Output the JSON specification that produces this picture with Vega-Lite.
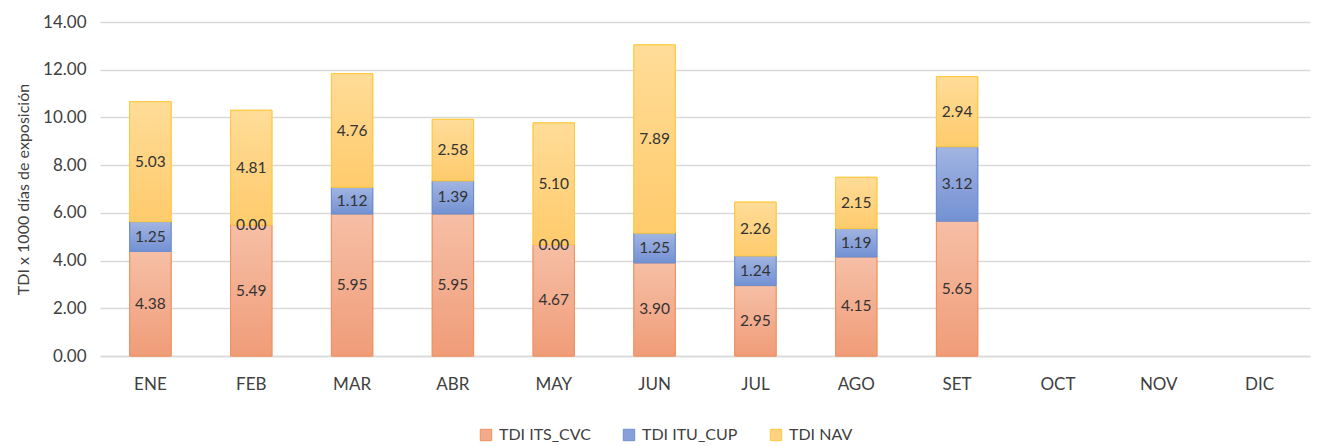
{
  "$schema": "https://vega.github.io/schema/vega-lite/v6.json",
  "width": 1210,
  "height": 334,
  "autosize": {"type": "none"},
  "padding": {"left": 100, "top": 22, "right": 7, "bottom": 90},
  "background": "white",
  "config": {"view": {"stroke": null}, "font": "Lato"},
  "data": {"values": [
    {"mes": "ENE", "serie": "TDI ITS_CVC", "orden": 1, "valor": 4.38},
    {"mes": "ENE", "serie": "TDI ITU_CUP", "orden": 2, "valor": 1.25},
    {"mes": "ENE", "serie": "TDI NAV", "orden": 3, "valor": 5.03},
    {"mes": "FEB", "serie": "TDI ITS_CVC", "orden": 1, "valor": 5.49},
    {"mes": "FEB", "serie": "TDI ITU_CUP", "orden": 2, "valor": 0.00},
    {"mes": "FEB", "serie": "TDI NAV", "orden": 3, "valor": 4.81},
    {"mes": "MAR", "serie": "TDI ITS_CVC", "orden": 1, "valor": 5.95},
    {"mes": "MAR", "serie": "TDI ITU_CUP", "orden": 2, "valor": 1.12},
    {"mes": "MAR", "serie": "TDI NAV", "orden": 3, "valor": 4.76},
    {"mes": "ABR", "serie": "TDI ITS_CVC", "orden": 1, "valor": 5.95},
    {"mes": "ABR", "serie": "TDI ITU_CUP", "orden": 2, "valor": 1.39},
    {"mes": "ABR", "serie": "TDI NAV", "orden": 3, "valor": 2.58},
    {"mes": "MAY", "serie": "TDI ITS_CVC", "orden": 1, "valor": 4.67},
    {"mes": "MAY", "serie": "TDI ITU_CUP", "orden": 2, "valor": 0.00},
    {"mes": "MAY", "serie": "TDI NAV", "orden": 3, "valor": 5.10},
    {"mes": "JUN", "serie": "TDI ITS_CVC", "orden": 1, "valor": 3.90},
    {"mes": "JUN", "serie": "TDI ITU_CUP", "orden": 2, "valor": 1.25},
    {"mes": "JUN", "serie": "TDI NAV", "orden": 3, "valor": 7.89},
    {"mes": "JUL", "serie": "TDI ITS_CVC", "orden": 1, "valor": 2.95},
    {"mes": "JUL", "serie": "TDI ITU_CUP", "orden": 2, "valor": 1.24},
    {"mes": "JUL", "serie": "TDI NAV", "orden": 3, "valor": 2.26},
    {"mes": "AGO", "serie": "TDI ITS_CVC", "orden": 1, "valor": 4.15},
    {"mes": "AGO", "serie": "TDI ITU_CUP", "orden": 2, "valor": 1.19},
    {"mes": "AGO", "serie": "TDI NAV", "orden": 3, "valor": 2.15},
    {"mes": "SET", "serie": "TDI ITS_CVC", "orden": 1, "valor": 5.65},
    {"mes": "SET", "serie": "TDI ITU_CUP", "orden": 2, "valor": 3.12},
    {"mes": "SET", "serie": "TDI NAV", "orden": 3, "valor": 2.94}
  ]},
  "transform": [
    {"stack": "valor", "groupby": ["mes"], "sort": [{"field": "orden", "order": "ascending"}], "as": ["y0", "y1"]},
    {"calculate": "(datum.y0 + datum.y1) / 2", "as": "ymid"}
  ],
  "encoding": {
    "x": {
      "field": "mes", "type": "nominal",
      "scale": {"domain": ["ENE","FEB","MAR","ABR","MAY","JUN","JUL","AGO","SET","OCT","NOV","DIC"], "paddingInner": 0.59, "paddingOuter": 0.295},
      "axis": {"title": null, "labelAngle": 0, "labelFontSize": 17, "labelColor": "#404040", "labelPadding": 20, "ticks": false, "domain": true, "domainColor": "#d9d9d9", "domainWidth": 1.5}
    }
  },
  "layer": [
    {
      "mark": {"type": "bar", "strokeWidth": 1},
      "encoding": {
        "y": {"field": "y0", "type": "quantitative",
          "scale": {"domain": [0, 14]},
          "axis": {"title": "TDI x 1000 días de exposición", "titleFontSize": 16, "titleFontWeight": "normal", "titleColor": "#404040", "titlePadding": 11,
            "values": [0, 2, 4, 6, 8, 10, 12, 14], "format": ".2f", "labelFontSize": 17, "labelColor": "#404040", "labelPadding": 14,
            "ticks": false, "domain": false, "gridColor": "#d9d9d9", "gridWidth": 1.5}},
        "y2": {"field": "y1"},
        "color": {"field": "serie", "type": "nominal",
          "scale": {"domain": ["TDI ITS_CVC", "TDI ITU_CUP", "TDI NAV"], "range": ["#F3AA8A", "#879FDA", "#FFD37F"]},
          "legend": {"title": null, "orient": "none", "legendX": 378, "legendY": 405, "direction": "horizontal", "symbolType": "square", "symbolSize": 130, "symbolStrokeWidth": 1,
            "labelFontSize": 16, "labelColor": "#404040", "labelOffset": 5, "columnPadding": 30, "symbolOffset": 0}},
        "stroke": {"field": "serie", "type": "nominal",
          "scale": {"domain": ["TDI ITS_CVC", "TDI ITU_CUP", "TDI NAV"], "range": ["#F0915E", "#6E8ED0", "#FFC93A"]},
          "legend": null}
      }
    },
    {
      "transform": [{"filter": "datum.orden == 1"}],
      "mark": {"type": "bar", "stroke": "#F0915E", "strokeWidth": 1,
        "fill": {"gradient": "linear", "x1": 0, "y1": 0, "x2": 0, "y2": 1, "stops": [{"offset": 0, "color": "#F6BFA6"}, {"offset": 1, "color": "#F09C78"}]}},
      "encoding": {"y": {"field": "y0", "type": "quantitative"}, "y2": {"field": "y1"}}
    },
    {
      "transform": [{"filter": "datum.orden == 2 && datum.valor > 0"}],
      "mark": {"type": "bar", "stroke": "#6E8ED0", "strokeWidth": 1,
        "fill": {"gradient": "linear", "x1": 0, "y1": 0, "x2": 0, "y2": 1, "stops": [{"offset": 0, "color": "#A2B5E2"}, {"offset": 1, "color": "#7391D3"}]}},
      "encoding": {"y": {"field": "y0", "type": "quantitative"}, "y2": {"field": "y1"}}
    },
    {
      "transform": [{"filter": "datum.orden == 3"}],
      "mark": {"type": "bar", "stroke": "#FFC93A", "strokeWidth": 1,
        "fill": {"gradient": "linear", "x1": 0, "y1": 0, "x2": 0, "y2": 1, "stops": [{"offset": 0, "color": "#FFDC98"}, {"offset": 1, "color": "#FFCB6C"}]}},
      "encoding": {"y": {"field": "y0", "type": "quantitative"}, "y2": {"field": "y1"}}
    },
    {
      "mark": {"type": "text", "fontSize": 15.5, "color": "#333333", "baseline": "middle", "align": "center"},
      "encoding": {
        "y": {"field": "ymid", "type": "quantitative"},
        "text": {"field": "valor", "type": "quantitative", "format": ".2f"}
      }
    }
  ]
}
